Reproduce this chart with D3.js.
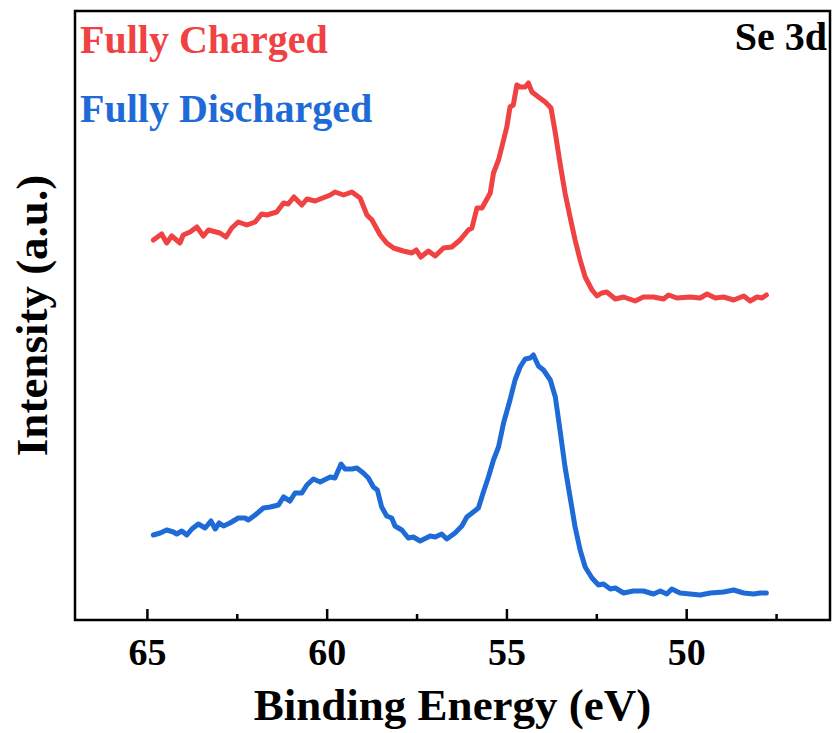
<!DOCTYPE html>
<html>
<head>
<meta charset="utf-8">
<script src="https://cdn.jsdelivr.net/npm/d3@7"></script>
<style>
  html, body { margin: 0; padding: 0; background: #fff; }
  svg text { font-family: "Liberation Serif", "Times New Roman", serif; font-weight: bold; }
</style>
</head>
<body>
<div id="chart"></div>
<script>
// Se 3d XPS spectra (binding energy in eV, intensity in a.u.)
const chargedEnergy = [64.82, 64.59, 64.45, 64.31, 64.08, 63.99, 63.80, 63.61, 63.43, 63.29, 62.97, 62.80, 62.64, 62.46, 62.22, 61.99, 61.81, 61.67, 61.39, 61.20, 61.07, 60.91, 60.69, 60.55, 60.32, 60.04, 59.90, 59.77, 59.53, 59.30, 59.07, 58.88, 58.74, 58.51, 58.33, 58.14, 57.87, 57.63, 57.51, 57.38, 57.17, 56.98, 56.75, 56.52, 56.29, 56.06, 55.96, 55.82, 55.68, 55.45, 55.36, 55.22, 55.08, 54.99, 54.90, 54.81, 54.71, 54.62, 54.48, 54.39, 54.29, 54.11, 53.92, 53.76, 53.64, 53.51, 53.37, 53.23, 53.09, 52.95, 52.81, 52.62, 52.48, 52.35, 52.21, 51.97, 51.74, 51.42, 51.19, 50.91, 50.63, 50.49, 50.26, 49.89, 49.61, 49.42, 49.19, 48.96, 48.68, 48.40, 48.22, 48.03, 47.89, 47.77];
const chargedIntensity = [380, 386, 377, 384, 377, 385, 388, 393, 384, 390, 387, 383, 392, 398, 395, 398, 406, 405, 408, 417, 416, 423, 415, 421, 419, 423, 425, 428, 425, 428, 422, 405, 400, 385, 377, 372, 369, 367, 370, 363, 369, 364, 372, 373, 380, 390, 392, 412, 412, 427, 447, 460, 480, 493, 513, 515, 535, 533, 533, 537, 528, 523, 518, 512, 487, 457, 427, 403, 380, 360, 343, 330, 324, 327, 328, 321, 323, 319, 323, 323, 321, 325, 322, 323, 322, 326, 322, 323, 320, 324, 319, 323, 322, 325];

const dischargedEnergy = [64.82, 64.63, 64.45, 64.26, 64.17, 64.03, 63.89, 63.75, 63.57, 63.38, 63.22, 63.10, 62.99, 62.87, 62.69, 62.46, 62.27, 62.18, 61.99, 61.76, 61.57, 61.34, 61.20, 61.02, 60.88, 60.69, 60.55, 60.37, 60.18, 59.90, 59.77, 59.60, 59.49, 59.30, 59.16, 58.98, 58.84, 58.70, 58.59, 58.47, 58.33, 58.19, 58.10, 57.91, 57.73, 57.59, 57.40, 57.12, 56.98, 56.80, 56.66, 56.43, 56.24, 56.10, 55.92, 55.78, 55.64, 55.50, 55.36, 55.22, 55.08, 54.90, 54.76, 54.62, 54.48, 54.34, 54.25, 54.11, 53.97, 53.78, 53.64, 53.51, 53.37, 53.23, 53.09, 52.95, 52.81, 52.62, 52.44, 52.30, 52.11, 51.97, 51.74, 51.47, 51.19, 50.91, 50.72, 50.54, 50.40, 50.17, 49.89, 49.61, 49.33, 48.96, 48.68, 48.40, 48.13, 47.94, 47.77];
const dischargedIntensity = [85, 87, 90, 88, 86, 89, 85, 91, 96, 92, 99, 91, 97, 94, 97, 102, 102, 100, 105, 112, 113, 115, 123, 119, 127, 127, 135, 141, 138, 143, 142, 156, 151, 151, 152, 147, 142, 133, 130, 113, 104, 102, 94, 90, 82, 83, 79, 84, 83, 86, 81, 87, 94, 103, 108, 112, 128, 143, 160, 173, 197, 220, 240, 253, 261, 262, 265, 254, 250, 240, 223, 190, 153, 123, 93, 70, 53, 42, 35, 36, 31, 32, 27, 29, 29, 26, 29, 26, 31, 27, 26, 25, 27, 28, 30, 27, 26, 27, 27];

const majorTicks = [65, 60, 55, 50];
const minorTicks = [62.5, 57.5, 52.5, 47.5];
const seriesNames = ['Fully Charged', 'Fully Discharged'];
const seriesColors = ['#f04242', '#1e6bd8'];

const W = 834, H = 733;
const margin = { top: 11, right: 4, bottom: 113, left: 75 };
const width = W - margin.left - margin.right;
const height = H - margin.top - margin.bottom;
const serif = '"Liberation Serif", "Times New Roman", serif';

const svg = d3.select('#chart').append('svg')
  .attr('width', W)
  .attr('height', H);

const g = svg.append('g')
  .attr('transform', `translate(${margin.left},${margin.top})`);

// Binding energy axis runs high -> low
const x = d3.scaleLinear().domain([67, 46]).range([0, width]);
const y = d3.scaleLinear().domain([0, 609]).range([height, 0]);

const line = d3.line()
  .x(d => x(d[0]))
  .y(d => y(d[1]));

const series = [
  d3.zip(chargedEnergy, chargedIntensity),
  d3.zip(dischargedEnergy, dischargedIntensity)
];

g.selectAll('.spectrum')
  .data(series)
  .enter()
  .append('path')
  .attr('class', 'spectrum')
  .attr('d', line)
  .attr('fill', 'none')
  .attr('stroke', (d, i) => seriesColors[i])
  .attr('stroke-width', 5)
  .attr('stroke-linejoin', 'round')
  .attr('stroke-linecap', 'round');

// Major ticks (inward) with labels
const xAxis = g.append('g')
  .attr('transform', `translate(0,${height})`)
  .call(d3.axisBottom(x).tickValues(majorTicks).tickSize(-11).tickPadding(18).tickFormat(d3.format('d')));
xAxis.attr('font-family', serif);
xAxis.select('.domain').remove();
xAxis.selectAll('line').attr('stroke', '#000').attr('stroke-width', 2.5);
xAxis.selectAll('text')
  .attr('fill', '#000')
  .style('font-family', serif)
  .style('font-weight', 'bold')
  .style('font-size', '38px');

// Minor ticks
const xMinor = g.append('g')
  .attr('transform', `translate(0,${height})`)
  .call(d3.axisBottom(x).tickValues(minorTicks).tickSize(-6).tickFormat(''));
xMinor.select('.domain').remove();
xMinor.selectAll('line').attr('stroke', '#000').attr('stroke-width', 2.5);

// Frame
g.append('rect')
  .attr('width', width)
  .attr('height', height)
  .attr('fill', 'none')
  .attr('stroke', '#000')
  .attr('stroke-width', 2.5);

// Axis titles
svg.append('text')
  .attr('x', margin.left + width / 2)
  .attr('y', 720)
  .attr('text-anchor', 'middle')
  .style('font-size', '45px')
  .text('Binding Energy (eV)');

svg.append('text')
  .attr('transform', `translate(47,${margin.top + height / 2}) rotate(-90)`)
  .attr('text-anchor', 'middle')
  .style('font-size', '45px')
  .text('Intensity (a.u.)');

// Legend labels
svg.selectAll('.legend')
  .data(seriesNames)
  .enter()
  .append('text')
  .attr('class', 'legend')
  .attr('x', 80)
  .attr('y', (d, i) => 53 + i * 69)
  .attr('fill', (d, i) => seriesColors[i])
  .style('font-size', '40px')
  .text(d => d);

svg.append('text')
  .attr('x', 827)
  .attr('y', 50)
  .attr('text-anchor', 'end')
  .style('font-size', '40px')
  .text('Se 3d');
</script>
</body>
</html>
